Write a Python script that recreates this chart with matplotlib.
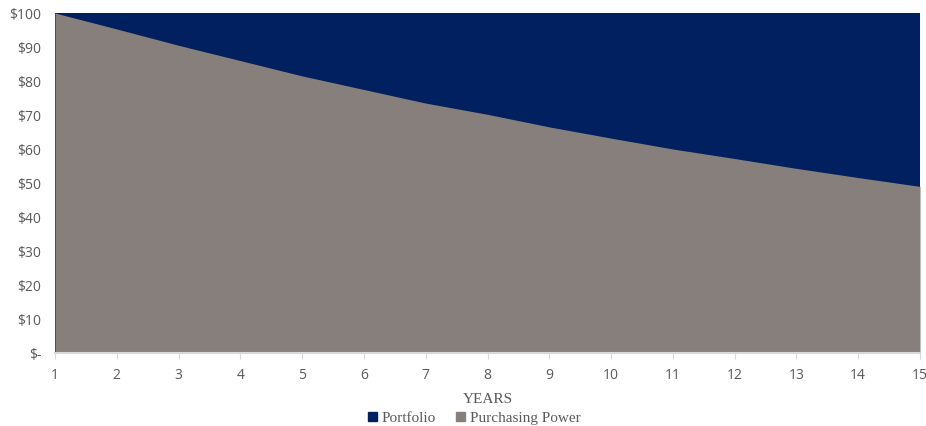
import numpy as np
import matplotlib.pyplot as plt
from matplotlib.ticker import FuncFormatter
from matplotlib.patches import Patch

# Data
years = [1, 2, 3, 4, 5, 6, 7, 8, 9, 10, 11, 12, 13, 14, 15]
portfolio = [100] * 15
purchasing_power = [100, 95.3, 90.5, 86.0, 81.5, 77.5, 73.5, 70.2, 66.5, 63.2, 60.0, 57.2, 54.3, 51.6, 49.0]

navy = '#002060'
gray = '#877F7B'

fig = plt.figure(figsize=(9.26, 4.26), dpi=100)
ax = fig.add_axes([55 / 926, 1 - 353 / 426, 865 / 926, 340 / 426])

ax.fill_between(years, 0, portfolio, color=navy, lw=0)
ax.fill_between(years, 0, purchasing_power, color=gray, lw=0)

ax.set_xlim(1, 15)
ax.set_ylim(0, 100)
ax.set_xticks(years)
ax.set_yticks(np.arange(0, 101, 10))
ax.yaxis.set_major_formatter(FuncFormatter(lambda v, p: '$-' if v == 0 else f'${v:.0f}'))

for s in ['top', 'right', 'left']:
    ax.spines[s].set_visible(False)
ax.spines['bottom'].set_color('#D9D9D9')
ax.spines['bottom'].set_linewidth(1.5)

ax.tick_params(axis='y', length=0, pad=10, labelsize=10, labelcolor='#595959')
ax.tick_params(axis='x', length=4, color='#D9D9D9', pad=7, labelsize=10, labelcolor='#595959')
for lab in ax.get_xticklabels() + ax.get_yticklabels():
    lab.set_family('Open Sans')

ax.set_xlabel('YEARS', family='Liberation Serif', fontsize=11, color='#595959', labelpad=7)

handles = [Patch(color=navy, label='Portfolio'), Patch(color=gray, label='Purchasing Power')]
fig.legend(handles=handles, loc='lower center', bbox_to_anchor=(0.512, -0.03), ncol=2, frameon=False,
           prop={'family': 'Liberation Serif', 'size': 11}, labelcolor='#595959',
           handlelength=0.6, handleheight=0.6, handletextpad=0.3, columnspacing=1.3)

fig.savefig('out.png', dpi=100)
